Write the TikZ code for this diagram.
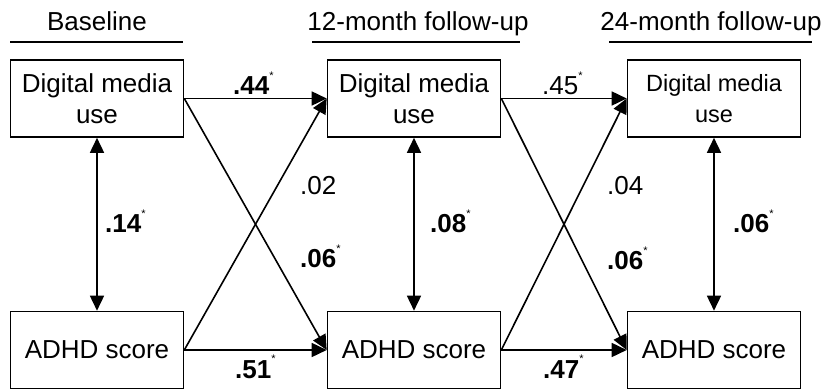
\documentclass[tikz,border=0pt]{standalone}
\usepackage{fontspec}
\setmainfont{Liberation Sans}
\usetikzlibrary{arrows.meta,calc,positioning}
\newcommand{\sigstar}{\raisebox{0.6em}{\fontsize{11}{11}\selectfont *}}

\begin{document}
\begin{tikzpicture}[x=1pt, y=-1pt,
		box/.style={draw, line width=1.6pt, minimum width=173pt, minimum height=77pt, inner sep=0pt, align=center, font=\fontsize{26}{31}\selectfont},
		hdr/.style={inner sep=0pt, anchor=base, font=\fontsize{26}{31}\selectfont},
		lbl/.style={inner sep=0pt, anchor=base west, font=\fontsize{26}{31}\selectfont},
		path/.style={line width=1.6pt, -{Triangle[length=15pt, width=14pt]}},
		both/.style={line width=1.6pt, {Triangle[length=15pt, width=14pt]}-{Triangle[length=15pt, width=14pt]}}]
		\useasboundingbox (0,0) rectangle (831,390);
		% headers
		\node [hdr] (hdA) at (97,31) {Baseline};
		\node [hdr] (hdB) at (418,31) {12-month follow-up};
		\node [hdr] (hdC) at (711,31) {24-month follow-up};
		\draw [line width=1.6pt] (10,42) -- (183,42);
		\draw [line width=1.6pt] (312,42) -- (520,42);
		\draw [line width=1.6pt] (609,42) -- (812,42);
		% boxes
		\node [box] (dmA) at (97,98.5) {Digital media\\use};
		\node [box] (dmB) at (414,98.5) {Digital media\\use};
		\node [box, font=\fontsize{23.5}{31}\selectfont] (dmC) at (714,98.5) {Digital media\\use};
		\node [box] (adA) at (97,350) {ADHD score};
		\node [box] (adB) at (414,350) {ADHD score};
		\node [box] (adC) at (714,350) {ADHD score};
		% paths
		\draw [path] (dmA.east) -- (dmB.west);
		\draw [path] (dmA.east) -- (adB.west);
		\draw [path] (adA.east) -- (dmB.west);
		\draw [path] (adA.east) -- (adB.west);
		\draw [path] (dmB.east) -- (dmC.west);
		\draw [path] (dmB.east) -- (adC.west);
		\draw [path] (adB.east) -- (dmC.west);
		\draw [path] (adB.east) -- (adC.west);
		\draw [both] (dmA.south) -- (adA.north);
		\draw [both] (dmB.south) -- (adB.north);
		\draw [both] (dmC.south) -- (adC.north);
		% coefficients
		\node [lbl] (c44) at (233,95) {\textbf{.44}\sigstar};
		\node [lbl] (c45) at (542,95) {.45\sigstar};
		\node [lbl] (c51) at (235,378) {\textbf{.51}\sigstar};
		\node [lbl] (c47) at (543,378) {\textbf{.47}\sigstar};
		\node [lbl] (c14) at (105,233) {\textbf{.14}\sigstar};
		\node [lbl] (c08) at (430,233) {\textbf{.08}\sigstar};
		\node [lbl] (c06c) at (733,233) {\textbf{.06}\sigstar};
		\node [lbl] (c02) at (300,195) {.02};
		\node [lbl] (c04) at (607,195) {.04};
		\node [lbl] (c06a) at (300,268) {\textbf{.06}\sigstar};
		\node [lbl] (c06b) at (607,270) {\textbf{.06}\sigstar};
\end{tikzpicture}
\end{document}
